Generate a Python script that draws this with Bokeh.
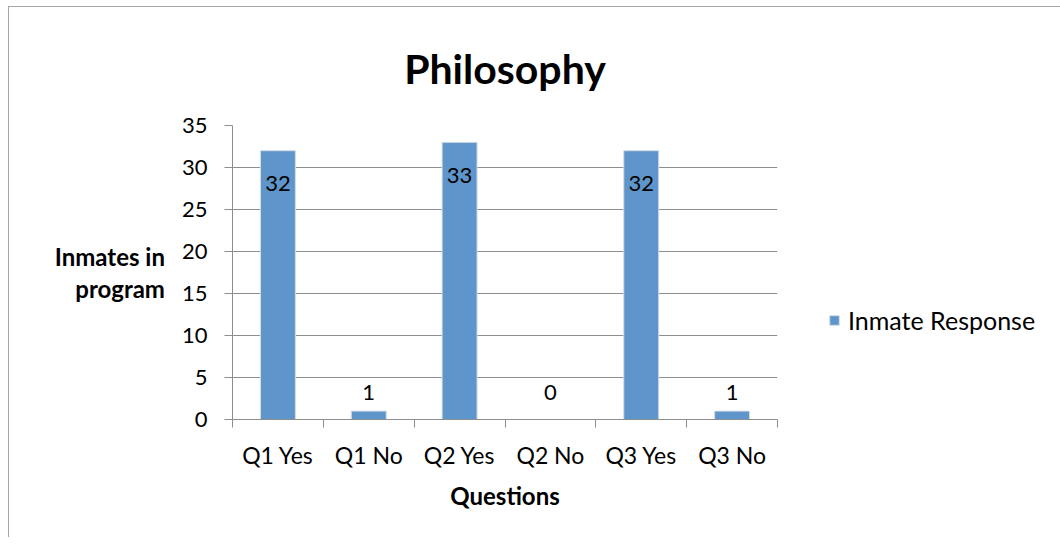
from bokeh.plotting import figure
from bokeh.models import (ColumnDataSource, FixedTicker, Legend, LegendItem, Range1d)
from bokeh.core.properties import value
from bokeh.embed import file_html
from bokeh.resources import INLINE

# ---- data ----
categories = ["Q1 Yes", "Q1 No", "Q2 Yes", "Q2 No", "Q3 Yes", "Q3 No"]
responses = [32, 1, 33, 0, 32, 1]
y_ticks = [0, 5, 10, 15, 20, 25, 30, 35]
title_text = "Philosophy"
x_title = "Questions"
y_title = "Inmates in\nprogram"
series_name = "Inmate Response"

FONT = "Lato"
BAR = "#5e95ca"
GRID = "#8e8e8e"

p = figure(frame_width=545, frame_height=294, output_backend="svg", toolbar_location=None,
           x_range=Range1d(0, len(categories)), y_range=Range1d(0, 35),
           min_border_left=223, min_border_right=282,
           min_border_top=118, min_border_bottom=118,
           styles={"border-left": "1px solid #a6a6a6", "border-top": "1px solid #a6a6a6",
                   "margin-left": "8px", "margin-top": "6px"})
p.outline_line_color = None
p.background_fill_color = "white"
p.border_fill_color = "white"

p.title.text = title_text
p.title.align = "center"
p.title.offset = 4
p.title.text_font = FONT
p.title.text_font_size = "41px"
p.title.text_font_style = "bold"
p.title.text_color = "black"
p.title.standoff = 66

centers = [i + 0.5 for i in range(len(categories))]
inside = [v >= 5 for v in responses]
src = ColumnDataSource(dict(
    x=centers, top=responses, cat=categories,
    lab=[str(v) for v in responses],
    ly=[v if ins else 0 for v, ins in zip(responses, inside)],
    loff=[33 if ins else -27 for ins in inside],
))

bars = p.vbar(x="x", top="top", bottom=0, width=0.385, source=src,
              fill_color=BAR, line_color="#d6dee8", line_width=1)

p.text(x="x", y="ly", text="lab", y_offset="loff", source=src,
       text_align="center", text_baseline="middle",
       text_font=value(FONT), text_font_size="22px", text_color="black")

# x axis: labels at centres, ticks at category boundaries
xa = p.xaxis[0]
xa.ticker = FixedTicker(ticks=centers, minor_ticks=list(range(len(categories) + 1)))
xa.major_label_overrides = {c: cat for c, cat in zip(centers, categories)}
xa.major_tick_line_color = None
xa.minor_tick_in = 0
xa.minor_tick_out = 8
xa.minor_tick_line_color = GRID
xa.axis_line_color = GRID
xa.major_label_text_font = FONT
xa.major_label_text_font_size = "23px"
xa.major_label_text_color = "black"
xa.major_label_standoff = 13
xa.axis_label = x_title
xa.axis_label_text_font = FONT
xa.axis_label_text_font_size = "24px"
xa.axis_label_text_font_style = "bold"
xa.axis_label_text_color = "black"
xa.axis_label_standoff = 9

ya = p.yaxis[0]
ya.ticker = FixedTicker(ticks=y_ticks)
ya.major_tick_in = 0
ya.major_tick_out = 8
ya.minor_tick_line_color = None
ya.major_tick_line_color = GRID
ya.axis_line_color = GRID
ya.major_label_text_font = FONT
ya.major_label_text_font_size = "22px"
ya.major_label_text_color = "black"
ya.major_label_standoff = 17
ya.axis_label = y_title
ya.axis_label_orientation = "horizontal"
ya.axis_label_text_font = FONT
ya.axis_label_text_font_size = "24px"
ya.axis_label_text_font_style = "bold"
ya.axis_label_text_color = "black"
ya.axis_label_text_line_height = 1.1
ya.axis_label_text_align = "center"
ya.axis_label_standoff = 14

p.xgrid.grid_line_color = None
p.ygrid.grid_line_color = GRID
p.ygrid.grid_line_width = 1

legend = Legend(items=[LegendItem(label=series_name, renderers=[bars])],
                location=(51, 84), orientation="vertical",
                glyph_width=12, glyph_height=12, label_standoff=8,
                label_text_font=FONT, label_text_font_size="25px",
                label_text_color="black",
                label_text_baseline="middle",
                padding=0, margin=0, border_line_color=None,
                background_fill_alpha=0, spacing=0)
p.add_layout(legend, "right")

open("out.html", "w").write(file_html(p, INLINE))
